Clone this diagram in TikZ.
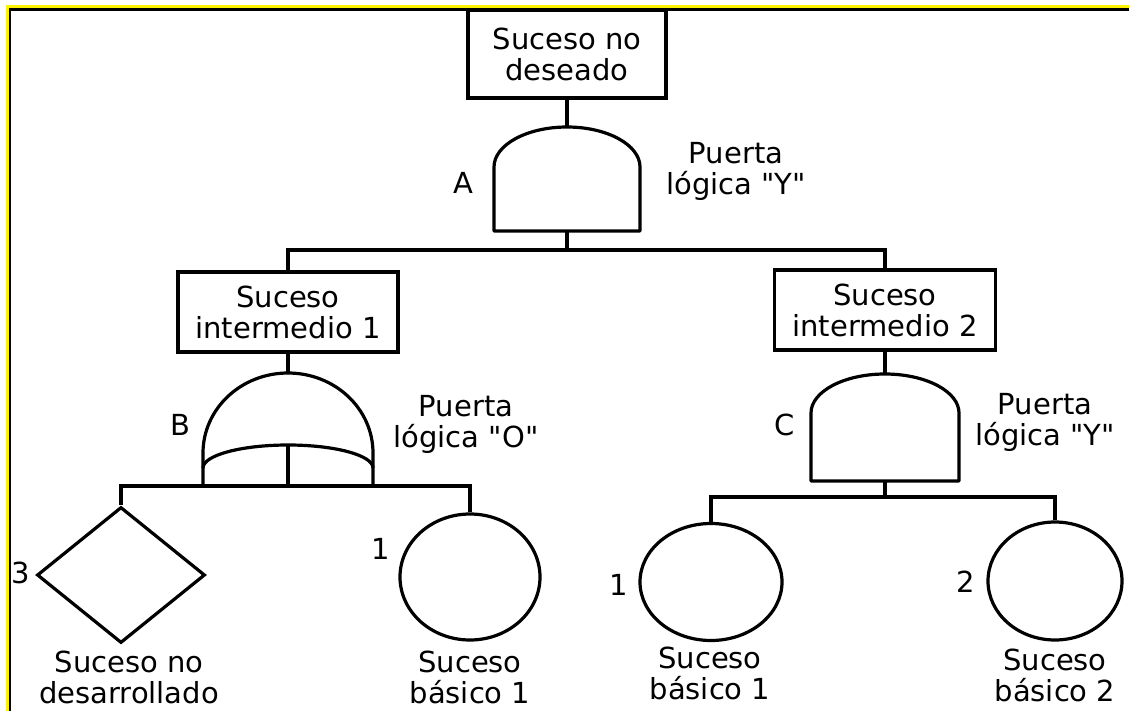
\documentclass[tikz,border=0pt]{standalone}
\usepackage{fontspec}
\setmainfont{DejaVu Sans}[Ligatures=TeXOff]
\usetikzlibrary{shapes.geometric}

\begin{document}
\begin{tikzpicture}[x=1pt,y=-1pt,line width=3.2pt,
  every node/.style={font=\fontsize{29}{31}\selectfont,align=center,inner sep=0pt},
  suceso/.style={draw,rectangle,minimum height=80pt,line width=3.2pt},
  basico/.style={draw,ellipse,line width=3.2pt},
  puerta/.style={line join=round}]
\useasboundingbox (0,0) rectangle (1129,711);
% marco
\draw[yellow,line width=3pt](7,711)--(7,6.5)--(1129,6.5);
\draw[line width=2.5pt](9.8,711)--(9.8,9.3)--(1129,9.3);
% sucesos
\node[suceso,minimum width=198pt,minimum height=88pt](top) at (567,54){Suceso no\\deseado};
\node[suceso,minimum width=220pt](int1) at (288,312){Suceso\\intermedio 1};
\node[suceso,minimum width=221pt](int2) at (885,310){Suceso\\intermedio 2};
\node[draw,diamond,minimum width=168pt,minimum height=136pt,line width=3.2pt](dia) at (121,575){};
\node[basico,minimum width=140pt,minimum height=126pt](b1) at (470,577){};
\node[basico,minimum width=142pt,minimum height=117pt](b2) at (711,582){};
\node[basico,minimum width=134pt,minimum height=118pt](b3) at (1055,581){};
% puerta A
\coordinate(A-out) at (567,127);
\coordinate(A-in) at (567,231);
\coordinate(A-bar) at (567,250);
\draw[puerta](494,231)--(494,167) arc[start angle=180,end angle=360,x radius=73,y radius=40]--(640,231)--cycle;
\node(lA) at (463,183){A};
\node(pA) at (736,171){Puerta\\lógica "Y"};
% puerta B
\coordinate(B-out) at (288,373);
\coordinate(B-bar) at (288,486);
\draw[puerta](203,486)--(203,453) arc[start angle=180,end angle=360,x radius=85,y radius=80]--(373,486);
\draw(203,468) arc[start angle=180,end angle=360,x radius=85,y radius=23];
\draw(288,445)--(B-bar);
\node(lB) at (180,425){B};
\node(pB) at (466,424){Puerta\\lógica "O"};
% puerta C
\coordinate(C-out) at (885,374);
\coordinate(C-in) at (885,481);
\coordinate(C-bar) at (885,497);
\draw[puerta](811,481)--(811,413) arc[start angle=180,end angle=360,x radius=74,y radius=39]--(959,481)--cycle;
\node(lC) at (785,425){C};
\node(pC) at (1045,422){Puerta\\lógica "Y"};
% conexiones
\draw(top.south)--(A-out);
\draw(A-in)--(A-bar);
\draw(int1.north)|-(A-bar)-|(int2.north);
\draw(int1.south)--(B-out);
\draw(dia.north)|-(B-bar)-|(b1.north);
\draw(int2.south)--(C-out);
\draw(C-in)--(C-bar);
\draw(b2.north)|-(C-bar)-|(b3.north);
% etiquetas
\node(n3) at (21,573){3};
\node(n1a) at (381,549){1};
\node(n1b) at (619,585){1};
\node(n2) at (966,582){2};
\node(t3) at (129,677){Suceso no\\desarrollado};
\node(t1a) at (470,677){Suceso\\básico 1};
\node(t1b) at (710,673){Suceso\\básico 1};
\node(t2) at (1055,675){Suceso\\básico 2};
\end{tikzpicture}
\end{document}
